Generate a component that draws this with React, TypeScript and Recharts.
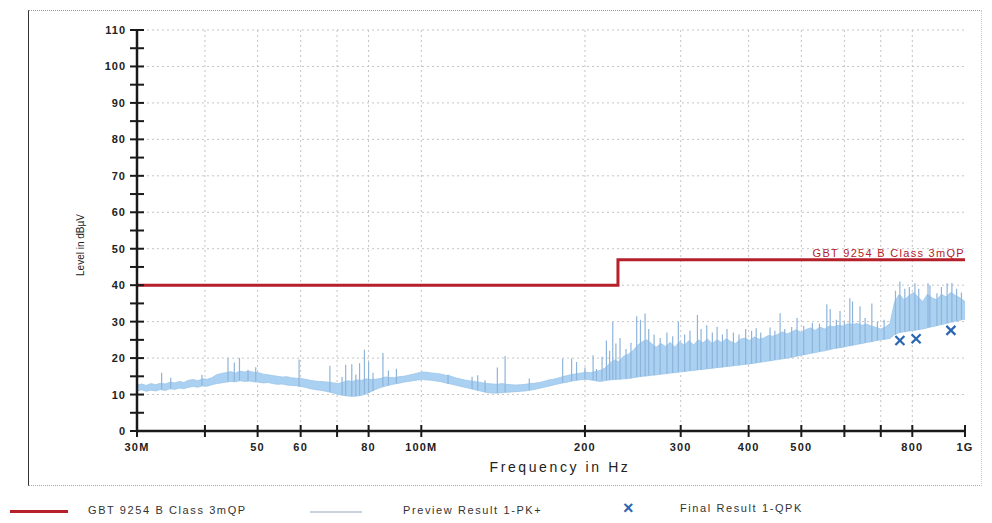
import {
  ComposedChart,
  Area,
  Line,
  Scatter,
  XAxis,
  YAxis,
  CartesianGrid,
  ReferenceDot,
} from 'recharts';

// Preview scan (peak detector): frequency in MHz, lower / upper edge of the dense trace in dBµV
const pkFreq = [
  30, 30.6, 31.2, 31.8, 32.5, 33.1, 33.8, 34.5, 35.2, 35.9,
  36.6, 37.3, 38.1, 38.8, 39.6, 40.4, 41.2, 42.0, 42.9, 43.7,
  44.6, 45.5, 46.4, 47.3, 48.3, 49.2, 50.2, 51.2, 52.3, 53.3,
  54.4, 55.5, 56.6, 57.7, 58.9, 60.0, 61.2, 62.5, 63.7, 65.0,
  66.3, 67.6, 69.0, 70.4, 71.8, 73.2, 74.7, 76.2, 77.7, 79.2,
  80.8, 82.4, 84.1, 85.8, 87.5, 89.2, 91.0, 92.8, 94.7, 96.6,
  98.5, 100.5, 102.5, 104.5, 106.6, 108.8, 110.9, 113.2, 115.4, 117.7,
  120.1, 122.5, 124.9, 127.4, 130.0, 132.6, 135.2, 137.9, 140.7, 143.5,
  146.4, 149.3, 152.3, 155.3, 158.4, 161.6, 164.8, 168.1, 171.5, 174.9,
  178.4, 182.0, 185.6, 189.3, 193.1, 197.0, 200.9, 204.9, 209.0, 213.2,
  217.5, 221.8, 226.2, 230.8, 235.4, 240.1, 244.9, 249.8, 254.8, 259.9,
  265.1, 270.4, 275.8, 281.3, 287.0, 292.7, 298.6, 304.5, 310.6, 316.8,
  323.2, 329.6, 336.2, 342.9, 349.8, 356.8, 363.9, 371.2, 378.6, 386.2,
  393.9, 401.8, 409.8, 418.0, 426.4, 434.9, 443.6, 452.5, 461.5, 470.8,
  480.2, 489.8, 499.6, 509.6, 519.8, 530.2, 540.8, 551.6, 562.6, 573.9,
  585.4, 597.1, 609.0, 621.2, 633.6, 646.3, 659.2, 672.4, 685.8, 699.6,
  713.6, 727.8, 742.4, 757.2, 772.4, 787.8, 803.6, 819.7, 836.1, 852.8,
  869.8, 887.2, 905.0, 923.1, 941.5, 960.4, 979.6, 1000,
];

const pkLow = [
  11.0, 11.3, 10.9, 11.2, 11.0, 11.4, 11.1, 11.6, 11.4, 11.8,
  11.6, 12.0, 12.2, 12.0, 12.4, 12.3, 12.7, 13.0, 13.2, 13.4,
  13.6, 13.5, 13.8, 13.6, 13.7, 13.5, 13.4, 13.2, 13.3, 13.0,
  12.8, 12.9, 12.6, 12.5, 12.4, 12.2, 12.0, 11.6, 11.4, 11.2,
  11.0, 10.7, 10.4, 10.0, 9.8, 9.6, 9.5, 9.6, 9.8, 10.2,
  10.8, 11.4, 11.9, 12.3, 12.6, 12.9, 13.1, 13.4, 13.6, 13.8,
  14.0, 14.1, 14.0, 13.9, 13.7, 13.5, 13.2, 12.9, 12.6, 12.3,
  12.0, 11.7, 11.4, 11.1, 10.8, 10.5, 10.4, 10.4, 10.5, 10.6,
  10.7, 10.8, 10.9, 11.0, 11.2, 11.4, 11.7, 12.0, 12.3, 12.6,
  12.9, 13.2, 13.4, 13.7, 13.9, 14.1, 14.2, 14.0, 13.8, 13.6,
  13.8, 14.0, 14.1, 14.2, 14.3, 14.4, 14.6, 14.8, 15.0, 15.1,
  15.3, 15.4, 15.6, 15.7, 15.9, 16.0, 16.2, 16.3, 16.5, 16.6,
  16.8, 16.9, 17.1, 17.2, 17.4, 17.5, 17.7, 17.8, 18.0, 18.1,
  18.3, 18.4, 18.6, 18.8, 19.0, 19.2, 19.4, 19.6, 19.8, 20.0,
  20.2, 20.5, 20.8, 21.0, 21.3, 21.5, 21.8, 22.0, 22.3, 22.6,
  22.8, 23.0, 23.3, 23.5, 23.8, 24.0, 24.3, 24.5, 24.8, 25.0,
  25.2, 25.4, 26.5, 27.0, 27.2, 27.4, 27.6, 27.8, 28.0, 28.3,
  28.6, 28.9, 29.2, 29.5, 29.8, 30.1, 30.4, 30.7,
];

const pkHigh = [
  12.6, 12.9, 12.5, 13.0, 12.7, 13.1, 12.9, 13.4, 13.2, 13.6,
  13.3, 13.9, 14.1, 13.8, 14.3, 14.2, 14.6, 15.4, 15.8, 16.0,
  16.3, 15.9, 16.4, 16.2, 16.4, 16.1, 16.0, 15.6, 15.4, 15.2,
  15.0, 14.8, 14.9, 14.6, 14.5, 14.4, 14.2, 13.9, 13.7, 13.6,
  13.5, 13.4, 13.2, 13.0, 13.4, 13.8, 13.6, 14.0, 13.9, 14.3,
  14.1, 14.2, 14.4, 14.8, 14.7, 14.6, 14.9, 15.0, 15.3, 15.6,
  15.9, 16.2, 16.1, 15.9, 15.8, 15.6, 15.3, 15.1, 14.6, 14.3,
  14.0, 13.8, 13.6, 13.4, 13.2, 13.0, 12.9, 12.8, 13.0, 12.8,
  12.7, 12.6, 12.7, 12.8, 13.0, 13.1, 13.3, 13.6, 14.0, 14.2,
  14.5, 14.9, 15.2, 15.5, 15.7, 15.9, 16.1, 16.0, 16.3, 16.6,
  17.2, 18.5, 19.5, 19.0, 20.5, 21.0, 22.0, 23.5, 24.5, 25.0,
  24.0, 23.0, 24.0, 23.2, 24.3, 23.0, 24.5, 23.5, 24.8, 23.6,
  25.0, 24.2, 25.2, 24.0, 25.0, 24.3, 25.3, 24.5, 24.0, 25.2,
  25.5, 24.8, 25.8, 25.2, 25.5, 26.2, 26.0, 26.5, 27.2, 26.6,
  27.2, 27.8, 27.0, 27.8, 28.3, 27.6, 28.5, 28.0, 28.8, 28.6,
  29.0, 28.8, 29.4, 29.2, 29.5, 29.0, 29.3, 28.8, 28.4, 28.0,
  28.5, 29.5, 35.5, 37.5, 36.0, 37.0, 38.0, 36.8, 35.5, 37.5,
  36.5, 36.0, 37.5, 36.8, 38.0, 37.2, 36.5, 35.5,
];

// Narrow peaks of the same scan: frequency in MHz, foot and tip level in dBµV
const spikeFreq = [
  33.3, 34.6, 39.5, 44.1, 45.3, 46.3, 48.0, 49.6, 59.6, 67.9,
  71.5, 72.6, 74.5, 75.8, 77.0, 78.6, 80.0, 81.5, 85.0, 87.0,
  90.0, 112, 124, 127, 131, 138, 142.6, 158, 182, 189,
  193, 200, 207, 210, 215, 219, 222, 225, 228, 232,
  238, 243, 249, 253, 258, 262, 268, 275, 283, 290,
  297, 305, 312, 322, 327, 335, 343, 350, 358, 365,
  375, 384, 395, 405, 413, 421, 438, 447, 457, 466,
  480, 491, 505, 524, 540, 557, 565, 580, 589, 600,
  614, 621, 641, 655, 674, 690, 710, 745, 759, 775,
  790, 809, 822, 855, 862, 888, 905, 927, 946, 965,
  985,
];

const spikeBase = [
  11.4, 11.6, 12.4, 13.6, 13.5, 13.8, 13.7, 13.5, 12.2, 10.7,
  9.8, 9.6, 9.5, 9.5, 9.7, 10.1, 10.5, 11.0, 12.2, 12.5,
  13.0, 12.9, 11.5, 11.1, 10.6, 10.4, 10.6, 11.2, 13.2, 13.7,
  13.9, 14.2, 14.0, 13.8, 13.8, 14.0, 14.0, 14.1, 14.1, 14.2,
  14.3, 14.5, 14.8, 14.9, 15.1, 15.2, 15.3, 15.6, 15.8, 15.9,
  16.1, 16.3, 16.5, 16.7, 16.8, 17.0, 17.2, 17.4, 17.5, 17.7,
  17.9, 18.1, 18.3, 18.5, 18.7, 18.9, 19.2, 19.5, 19.7, 19.9,
  20.2, 20.5, 20.9, 21.4, 21.8, 22.2, 22.4, 22.7, 22.9, 23.1,
  23.4, 23.5, 23.9, 24.2, 24.5, 24.9, 25.1, 26.5, 27.0, 27.2,
  27.4, 27.6, 27.8, 28.3, 28.5, 28.9, 29.2, 29.6, 29.9, 30.2,
  30.5,
];

const spikePeak = [
  16.0, 14.6, 15.4, 20.1, 18.8, 20.0, 16.8, 17.5, 19.6, 17.9,
  14.8, 18.2, 18.3, 15.5, 18.6, 22.3, 18.9, 16.0, 21.4, 16.6,
  17.1, 15.4, 14.9, 15.3, 13.9, 17.4, 20.6, 14.4, 19.8, 19.9,
  18.9, 17.4, 20.8, 17.0, 20.4, 24.8, 22.0, 30.0, 24.0, 25.5,
  22.5, 24.2, 31.5, 30.5, 32.2, 28.0, 26.5, 25.5, 27.0, 26.0,
  30.0, 26.5, 27.5, 31.8, 28.0, 29.0, 27.0, 28.6, 26.5, 28.0,
  27.0, 26.5, 28.0, 27.5, 28.2, 27.0, 28.4, 27.5, 32.3, 28.0,
  28.5, 31.0, 28.8, 29.6, 29.5, 34.8, 33.5, 30.5, 32.9, 30.0,
  36.4, 35.5, 34.2, 31.0, 35.0, 30.0, 30.5, 38.5, 41.0, 39.0,
  39.5, 40.5, 39.0, 40.5, 40.0, 37.8, 39.5, 40.5, 40.6, 39.0,
  38.0,
];

// GB/T 9254 class B, 3 m, quasi-peak limit
const limitFreq = [30, 230, 1000];
const limitLevel = [40, 47, 47];

// Final quasi-peak measurements
const qpFreq = [759, 813, 942];
const qpLevel = [24.8, 25.3, 27.6];

const xTicks = [30, 40, 50, 60, 70, 80, 100, 200, 300, 400, 500, 600, 700, 800, 1000];
const xTickText: Record<number, string> = {
  30: '30M',
  50: '50',
  60: '60',
  80: '80',
  100: '100M',
  200: '200',
  300: '300',
  400: '400',
  500: '500',
  800: '800',
  1000: '1G',
};
const yTicks = [0, 5, 10, 15, 20, 25, 30, 35, 40, 45, 50, 55, 60, 65, 70, 75, 80, 85, 90, 95, 100, 105, 110];
const gridX = [40, 50, 60, 70, 80, 100, 200, 300, 400, 500, 600, 700, 800];
const gridY = [10, 20, 30, 40, 50, 60, 70, 80, 90, 100, 110];

const LIMIT_LABEL = 'GBT 9254 B Class 3mQP';

const pkData = pkFreq.map((f, i) => ({ f, range: [pkLow[i], pkHigh[i]] }));
// each peak is a vertical stroke: foot, tip, then a gap
const spikeData = spikeFreq.flatMap((f, i) => [
  { f, v: spikeBase[i] },
  { f, v: spikePeak[i] },
  { f, v: null },
]);
const limitData = limitFreq.map((f, i) => ({ f, v: limitLevel[i] }));
const qpData = qpFreq.map((f, i) => ({ f, v: qpLevel[i] }));

const FONT = '"Liberation Sans", Arial, sans-serif';
const INK = '#1a1a1a';
const LIMIT_RED = '#B5202A';
const TRACE_BLUE = '#AAD1F1';
const SPIKE_BLUE = '#8EB4DA';
const MARK_BLUE = '#2A66B2';

const YTick = (props: any) => {
  const { x, y, payload } = props;
  const v = payload.value;
  return (
    <g>
      <line x1={x - 7} x2={x + 7} y1={y} y2={y} stroke={INK} strokeWidth={2} />
      {v % 10 === 0 && (
        <text
          x={x - 11}
          y={y}
          dy={4}
          textAnchor="end"
          fontFamily={FONT}
          fontSize={11}
          fontWeight="bold"
          letterSpacing={1}
          fill="#222"
        >
          {v}
        </text>
      )}
    </g>
  );
};

const XTick = (props: any) => {
  const { x, y, payload } = props;
  const label = xTickText[payload.value];
  return (
    <g>
      <line x1={x} x2={x} y1={y - 6} y2={y + 6} stroke={INK} strokeWidth={2} />
      {label && (
        <text
          x={x}
          y={y + 20}
          textAnchor="middle"
          fontFamily={FONT}
          fontSize={11}
          fontWeight="bold"
          letterSpacing={1.2}
          fill="#222"
        >
          {label}
        </text>
      )}
    </g>
  );
};

const Cross = (props: any) => {
  const { cx, cy } = props;
  const s = 4.5;
  return (
    <g stroke={MARK_BLUE} strokeWidth={2.2}>
      <line x1={cx - s} y1={cy - s} x2={cx + s} y2={cy + s} />
      <line x1={cx - s} y1={cy + s} x2={cx + s} y2={cy - s} />
    </g>
  );
};

const LimitTag = (props: any) => {
  const vb = props.viewBox || { x: 0, y: 0, width: 0, height: 0 };
  return (
    <text
      x={vb.x + vb.width / 2}
      y={vb.y - 3}
      textAnchor="end"
      fontFamily={FONT}
      fontSize={11}
      letterSpacing={1.3}
      fill={LIMIT_RED}
    >
      {LIMIT_LABEL}
    </text>
  );
};

const legendText: React.CSSProperties = {
  position: 'absolute',
  top: 504,
  fontSize: 11,
  letterSpacing: 1.6,
  color: '#333',
  whiteSpace: 'nowrap',
};

export default function App() {
  return (
    <div
      style={{
        position: 'absolute',
        left: 0,
        top: 0,
        width: 992,
        height: 523,
        background: '#fff',
        fontFamily: FONT,
        overflow: 'hidden',
      }}
    >
      <div
        style={{
          position: 'absolute',
          left: 28,
          top: 10,
          width: 952,
          height: 474,
          borderLeft: '1.5px solid #333',
          borderTop: '1px dotted #999',
          borderBottom: '1px dotted #aaa',
          borderRight: '1px dotted #ccc',
        }}
      />
      <div style={{ position: 'absolute', left: 0, top: 0 }}>
        <ComposedChart width={992} height={523} margin={{ top: 30, right: 27, bottom: 52, left: 77 }}>
          <CartesianGrid
            horizontalValues={gridY}
            verticalValues={gridX}
            stroke="#c4c4c4"
            strokeDasharray="2 3"
          />
          <XAxis
            type="number"
            dataKey="f"
            scale="log"
            domain={[30, 1000]}
            allowDataOverflow
            ticks={xTicks}
            interval={0}
            height={40}
            tickSize={0}
            tickMargin={0}
            tickLine={false}
            tick={<XTick />}
            axisLine={{ stroke: INK, strokeWidth: 2.5 }}
          />
          <YAxis
            type="number"
            domain={[0, 110]}
            allowDataOverflow
            ticks={yTicks}
            interval={0}
            width={60}
            tickSize={0}
            tickMargin={0}
            tickLine={false}
            tick={<YTick />}
            axisLine={{ stroke: INK, strokeWidth: 2.5 }}
          />
          <Area
            data={pkData}
            dataKey="range"
            type="linear"
            stroke="#9CC5EA"
            strokeWidth={0.8}
            fill={TRACE_BLUE}
            fillOpacity={1}
            dot={false}
            activeDot={false}
            isAnimationActive={false}
          />
          <Line
            data={spikeData}
            dataKey="v"
            type="linear"
            stroke={SPIKE_BLUE}
            strokeWidth={1.2}
            dot={false}
            activeDot={false}
            connectNulls={false}
            isAnimationActive={false}
          />
          <Line
            data={limitData}
            dataKey="v"
            type="stepAfter"
            stroke={LIMIT_RED}
            strokeWidth={3}
            dot={false}
            activeDot={false}
            isAnimationActive={false}
          />
          <Scatter data={qpData} dataKey="v" shape={<Cross />} isAnimationActive={false} />
          <ReferenceDot
            x={limitFreq[limitFreq.length - 1]}
            y={limitLevel[limitLevel.length - 1]}
            r={0}
            fill="none"
            stroke="none"
            label={{ content: (p: any) => <LimitTag {...p} /> }}
          />
        </ComposedChart>
      </div>

      <div
        style={{
          position: 'absolute',
          left: 80,
          top: 245,
          transform: 'translate(-50%, -50%) rotate(-90deg)',
          fontSize: 10,
          color: '#222',
          whiteSpace: 'nowrap',
        }}
      >
        Level in dBµV
      </div>
      <div
        style={{
          position: 'absolute',
          left: 560,
          top: 467,
          transform: 'translate(-50%, -50%)',
          fontSize: 14,
          letterSpacing: 2.6,
          color: '#222',
          whiteSpace: 'nowrap',
        }}
      >
        Frequency in Hz
      </div>

      <div style={{ position: 'absolute', left: 10, top: 510, width: 58, height: 3, background: LIMIT_RED }} />
      <div style={{ ...legendText, left: 88 }}>GBT 9254 B Class 3mQP</div>
      <div style={{ position: 'absolute', left: 310, top: 511, width: 52, height: 1.5, background: '#c9d4de' }} />
      <div style={{ ...legendText, left: 403 }}>Preview Result 1-PK+</div>
      <div
        style={{
          ...legendText,
          left: 623,
          top: 498,
          fontSize: 18,
          fontWeight: 'bold',
          letterSpacing: 0,
          color: MARK_BLUE,
        }}
      >
        ×
      </div>
      <div style={{ ...legendText, left: 680, top: 502 }}>Final Result 1-QPK</div>
    </div>
  );
}
